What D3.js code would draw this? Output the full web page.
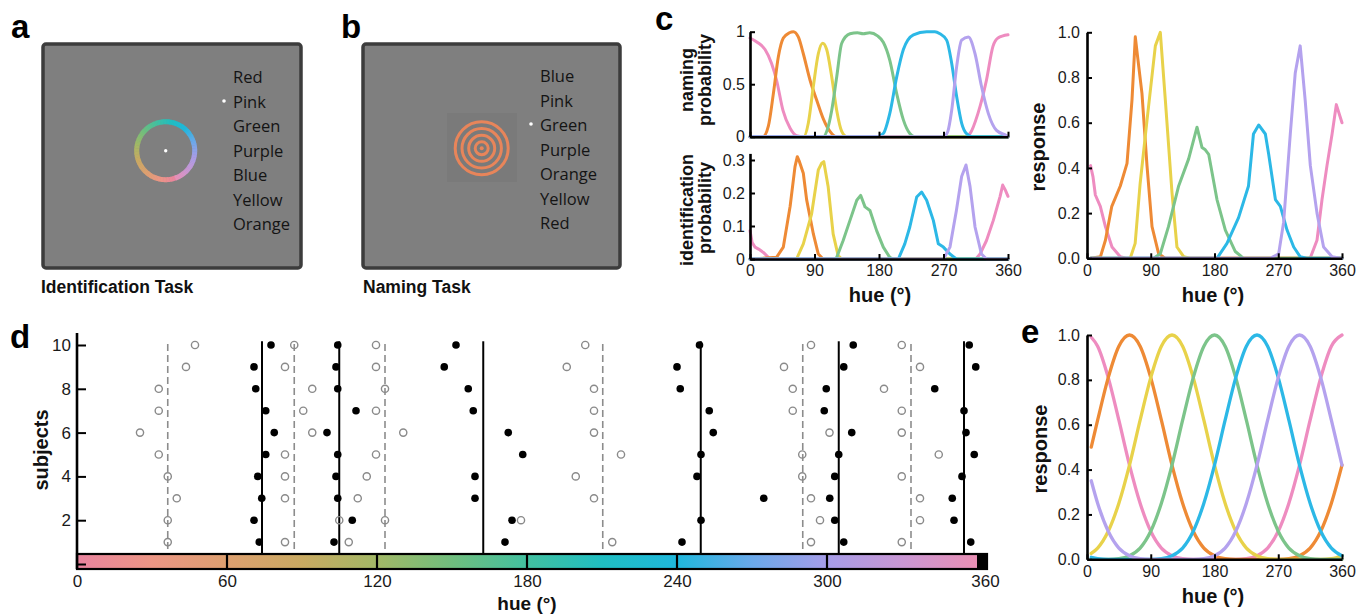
<!DOCTYPE html>
<html><head><meta charset="utf-8">
<script src="https://cdn.jsdelivr.net/npm/d3@7"></script>
<style>html,body{margin:0;padding:0;background:#fff}svg{display:block}</style>
</head><body>
<svg id="fig" width="1370" height="614"></svg>
<script>
// ---------------- DATA ----------------
const identWords = ["Red","Pink","Green","Purple","Blue","Yellow","Orange"];
const namingWords = ["Blue","Pink","Green","Purple","Orange","Yellow","Red"];
const hueTicksC = [0,90,180,270,360];
const hueTicksD = [0,60,120,180,240,300,360];
const subjectTicks = [0,2,4,6,8,10];
const seriesNames = ["pink","orange","yellow","green","blue","purple"];
const seriesColors = ["#ee8cc0","#ee8a35","#e8d24a","#7cc48a","#2cb8e6","#b4a2ee"];

// colour bar (hue -> colour)
const barHues = [0,30,60,90,120,150,180,210,240,270,300,330,360];
const barColors = ["#e9849f","#ec9685","#dda070","#c9aa62","#a2b866","#70be7e","#42c0a0","#20bec2","#1fb7dc","#6aa9ea","#a69de8","#c997d4","#e98fb4"];

// c (top): naming probability, [hue, p]
const namingPink   = [[0,0.94],[10,0.9],[21,0.83],[30,0.7],[37,0.54],[46,0.25],[56,0.08],[65,0.01],[75,0],[300,0],[307,0.03],[318,0.22],[330,0.54],[339,0.86],[346,0.94],[360,0.97]];
const namingOrange = [[0,0],[18,0],[25.6,0.1],[32.6,0.41],[39.5,0.76],[46.5,0.94],[55,0.99],[60.5,1.0],[67.4,0.95],[74.4,0.79],[83.7,0.54],[93,0.35],[102.3,0.17],[111.6,0.05],[120,0],[360,0]];
const namingYellow = [[0,0],[75,0],[81.4,0.13],[88.4,0.48],[95.3,0.79],[101.4,0.89],[107,0.83],[114,0.57],[121,0.25],[128,0.05],[135,0],[360,0]];
const namingGreen  = [[0,0],[102,0],[108,0.07],[114,0.25],[121,0.57],[128,0.89],[139.5,0.98],[150,0.99],[158,0.98],[167,0.99],[178,0.96],[186,0.9],[195,0.73],[204.7,0.41],[214,0.16],[223,0.03],[230,0],[360,0]];
const namingBlue   = [[0,0],[177,0],[186,0.03],[195,0.22],[204.7,0.57],[214,0.83],[228,0.97],[246.5,1.0],[258,1.0],[265,0.98],[274.4,0.92],[281.4,0.7],[288.4,0.38],[295.3,0.13],[302,0.03],[310,0],[360,0]];
const namingPurple = [[0,0],[270,0],[276,0.05],[281.4,0.25],[288.4,0.67],[295.3,0.92],[304.7,0.95],[314,0.79],[323,0.48],[332.6,0.22],[344,0.06],[358,0.01],[360,0]];

// c (bottom): identification probability
const identPink   = [[0,0.086],[3,0.05],[7,0.036],[12,0.03],[18.6,0.02],[28,0],[315,0],[321,0.015],[330,0.056],[339.5,0.117],[349,0.19],[352.6,0.224],[356,0.21],[360,0.19]];
const identOrange = [[0,0],[37,0.005],[46.5,0.036],[56,0.16],[62.8,0.28],[66,0.31],[69,0.295],[74.4,0.26],[79,0.18],[88.4,0.076],[95.3,0.015],[102,0],[360,0]];
const identYellow = [[0,0],[65,0],[74.4,0.046],[86,0.137],[95.3,0.27],[100,0.29],[103,0.295],[109,0.22],[116,0.076],[123,0.01],[128,0],[360,0]];
const identGreen  = [[0,0],[118,0],[121,0.005],[130,0.056],[139.5,0.117],[149,0.178],[154.4,0.193],[160.5,0.158],[167.4,0.147],[176.7,0.086],[186,0.036],[195,0.005],[200,0],[360,0]];
const identBlue   = [[0,0],[207,0],[216,0.046],[223,0.097],[232.6,0.188],[239.5,0.203],[246.5,0.178],[255.8,0.117],[262.8,0.046],[269.8,0.036],[279,0.015],[288,0],[360,0]];
const identPurple = [[0,0],[270,0],[279,0.036],[288,0.147],[295.3,0.25],[301.4,0.285],[307,0.22],[314,0.097],[323,0.015],[330,0],[360,0]];

// c (right): response
const respPink   = [[5,0.41],[8.5,0.36],[11.8,0.28],[18.8,0.23],[26,0.14],[35.3,0.05],[47,0.007],[55,0],[315,0],[324.7,0.08],[331.8,0.26],[338.8,0.41],[346,0.55],[352,0.68],[360,0.6]];
const respOrange = [[5,0],[19,0.007],[26,0.08],[35,0.23],[47,0.32],[56.5,0.42],[63.5,0.7],[68.2,0.98],[71.5,0.89],[77.6,0.73],[84.7,0.41],[91.8,0.14],[101,0.022],[110,0],[360,0]];
const respYellow = [[5,0],[61,0],[68,0.066],[75,0.33],[84.7,0.61],[96.5,0.94],[103.5,1.0],[110.6,0.7],[120,0.29],[127,0.05],[136.5,0.007],[145,0],[360,0]];
const respGreen  = [[5,0],[94,0],[103.5,0.02],[115,0.14],[129.4,0.32],[143.5,0.44],[155.3,0.58],[162.4,0.49],[167,0.48],[171.8,0.46],[183.5,0.26],[195.3,0.125],[209.4,0.03],[221,0],[360,0]];
const respBlue   = [[5,0],[183.5,0],[197.6,0.066],[214,0.18],[228,0.32],[235,0.55],[242.4,0.59],[251.8,0.55],[256.5,0.46],[266,0.26],[273,0.23],[282.4,0.125],[291.8,0.05],[301,0.007],[310,0],[360,0]];
const respPurple = [[5,0],[258.8,0],[270.6,0.02],[277.6,0.16],[287,0.55],[294,0.82],[301,0.94],[308,0.7],[315.3,0.41],[324.7,0.2],[334,0.05],[346,0.007],[357.6,0],[360,0]];

// e: tuning curves on a hue grid
const hueE = [6,15,30,45,60,75,90,105,120,135,150,165,180,195,210,225,240,255,270,285,300,315,330,345,360];
const tunePink   = [0.99,0.95,0.81,0.62,0.42,0.25,0.125,0.05,0.016,0.003,0,0,0,0,0,0.003,0.016,0.05,0.125,0.25,0.42,0.62,0.81,0.95,1.0];
const tuneOrange = [0.50,0.62,0.81,0.95,1.0,0.95,0.81,0.62,0.42,0.25,0.125,0.05,0.016,0.003,0,0,0,0,0,0.003,0.016,0.05,0.125,0.25,0.42];
const tuneYellow = [0.026,0.05,0.125,0.25,0.42,0.62,0.81,0.95,1.0,0.95,0.81,0.62,0.42,0.25,0.125,0.05,0.016,0.003,0,0,0,0,0,0.003,0.016];
const tuneGreen  = [0,0,0,0.003,0.016,0.05,0.125,0.25,0.42,0.62,0.81,0.95,1.0,0.95,0.81,0.62,0.42,0.25,0.125,0.05,0.016,0.003,0,0,0];
const tuneBlue   = [0.009,0.003,0,0,0,0,0,0.003,0.016,0.05,0.125,0.25,0.42,0.62,0.81,0.95,1.0,0.95,0.81,0.62,0.42,0.25,0.125,0.05,0.016];
const tunePurple = [0.35,0.25,0.125,0.05,0.016,0.003,0,0,0,0,0,0.003,0.016,0.05,0.125,0.25,0.42,0.62,0.81,0.95,1.0,0.95,0.81,0.62,0.42];

// d: focal hues per subject (rows 10..1), 6 colour categories
const subjects = [10,9,8,7,6,5,4,3,2,1];
const namingHues = [
 [77.6,104.3,151.6,249.0,310.5,356.9],
 [70.8,103.6,146.9,240.0,306.7,359.5],
 [71.5,104.3,156.5,241.3,299.7,343.1],
 [75.5,111.6,158.5,252.9,298.9,354.8],
 [78.9,100.0,172.5,254.5,309.9,355.6],
 [75.5,104.3,178.3,249.6,304.7,358.9],
 [72.3,103.6,159.2,248.0,303.1,354.0],
 [73.9,104.3,159.2,274.7,301.1,350.1],
 [70.8,110.1,174.0,249.6,303.1,350.8],
 [72.9,102.8,171.2,242.0,306.7,357.5]];
const identHues = [
 [47.2,86.9,119.6,203.3,293.6,329.9],
 [43.6,83.2,119.6,195.9,282.8,337.2],
 [32.7,94.1,123.2,206.8,286.3,322.8],
 [32.7,90.5,119.6,206.8,286.3,329.9],
 [25.2,94.1,130.5,206.8,301.0,329.9],
 [32.7,83.2,119.6,217.6,290.1,344.7],
 [36.3,83.2,115.9,199.5,290.1,329.9],
 [39.9,83.2,112.3,206.8,293.6,337.2],
 [36.3,104.9,123.2,177.6,297.2,337.2],
 [36.3,83.2,108.7,214.1,293.6,329.9]];
const namingMeans = [74.0,104.9,162.5,249.5,304.7,354.8];
const identMeans  = [36.3,86.9,123.2,210.3,290.3,333.6];

// ---------------- DRAWING ----------------
const svg = d3.select("#fig");
const SANS = "'Liberation Sans', Arial, Helvetica, sans-serif";
const CAL = "'Open Sans', 'Noto Sans', sans-serif";
const hueColor = d3.scaleLinear().domain(barHues).range(barColors);

function panelLabel(t, x, y) {
  svg.append("text").attr("x", x).attr("y", y).text(t)
    .attr("font-family", SANS).attr("font-weight", "bold").attr("font-size", 33).attr("fill", "#000");
}
function styleAxis(g, fs) {
  g.attr("font-family", SANS).attr("font-size", fs);
  g.select(".domain").attr("stroke", "#000").attr("stroke-width", 2.6);
  g.selectAll(".tick line").attr("stroke", "#000").attr("stroke-width", 2);
  g.selectAll(".tick text").attr("fill", "#1a1a1a");
}
function title(t, x, y, fs, rot) {
  const el = svg.append("text").text(t).attr("font-family", SANS).attr("font-weight", "bold")
    .attr("font-size", fs).attr("fill", "#111").attr("text-anchor", "middle");
  if (rot) el.attr("transform", `translate(${x},${y}) rotate(-90)`).attr("dominant-baseline", "central");
  else el.attr("x", x).attr("y", y);
  return el;
}

// ---- panel a ----
panelLabel("a", 11, 38);
svg.append("rect").attr("x", 43).attr("y", 44).attr("width", 258).attr("height", 224).attr("rx", 3)
  .attr("fill", "#7f7f7f").attr("stroke", "#3c3c3c").attr("stroke-width", 3.5);
const ringG = svg.append("g").attr("transform", "translate(165.7,150.7)");
const arc = d3.arc().innerRadius(26.5).outerRadius(31.5);
const ringHues = d3.range(0, 360, 3);
ringG.selectAll("path").data(ringHues).join("path")
  .attr("d", h => arc({startAngle: (h + 160) * Math.PI / 180, endAngle: (h + 164) * Math.PI / 180}))
  .attr("fill", h => hueColor(h));
ringG.append("circle").attr("r", 1.7).attr("fill", "#fff");
svg.append("g").selectAll("text").data(identWords).join("text")
  .attr("x", 233).attr("y", (d, i) => 83 + i * 24.5).text(d => d)
  .attr("font-family", CAL).attr("font-size", 16.5).attr("fill", "#141414");
svg.append("circle").attr("cx", 224).attr("cy", 101).attr("r", 1.8).attr("fill", "#fff");
svg.append("text").attr("x", 41).attr("y", 293).text("Identification Task")
  .attr("font-family", SANS).attr("font-weight", "bold").attr("font-size", 17.5).attr("fill", "#111");

// ---- panel b ----
panelLabel("b", 341, 38);
svg.append("rect").attr("x", 363).attr("y", 44).attr("width", 257).attr("height", 224).attr("rx", 3)
  .attr("fill", "#7f7f7f").attr("stroke", "#3c3c3c").attr("stroke-width", 3.5);
svg.append("rect").attr("x", 447).attr("y", 113).attr("width", 70).attr("height", 69).attr("fill", "#7a7a7a");
const ringB = svg.append("g").attr("transform", "translate(481.7,148.3)");
ringB.selectAll("circle").data([26.5, 19.7, 13, 6.5]).join("circle")
  .attr("r", d => d).attr("fill", "none").attr("stroke", "#e8855a").attr("stroke-width", 3);
ringB.append("circle").attr("r", 2).attr("fill", "#e8855a");
svg.append("g").selectAll("text").data(namingWords).join("text")
  .attr("x", 540).attr("y", (d, i) => 82 + i * 24.5).text(d => d)
  .attr("font-family", CAL).attr("font-size", 16.5).attr("fill", "#141414");
svg.append("circle").attr("cx", 531).attr("cy", 124).attr("r", 1.8).attr("fill", "#fff");
svg.append("text").attr("x", 363).attr("y", 293).text("Naming Task")
  .attr("font-family", SANS).attr("font-weight", "bold").attr("font-size", 17.5).attr("fill", "#111");

// ---- panel c ----
panelLabel("c", 655, 30);
const lineStyle = (sel, color) => sel.attr("fill", "none").attr("stroke", color).attr("stroke-width", 3)
  .attr("stroke-linejoin", "round").attr("stroke-linecap", "round");

const xC = d3.scaleLinear().domain([0, 360]).range([750, 1008]);
const yCT = d3.scaleLinear().domain([0, 1]).range([136.7, 31.7]);
const yCB = d3.scaleLinear().domain([0, 0.32]).range([259, 153.4]);

const namingSeries = [namingPink, namingOrange, namingYellow, namingGreen, namingBlue, namingPurple];
const identSeries = [identPink, identOrange, identYellow, identGreen, identBlue, identPurple];
const respSeries = [respPink, respOrange, respYellow, respGreen, respBlue, respPurple];
const tuneSeries = [tunePink, tuneOrange, tuneYellow, tuneGreen, tuneBlue, tunePurple];

const lnCT = d3.line().x(d => xC(d[0])).y(d => yCT(d[1])).curve(d3.curveMonotoneX);
namingSeries.forEach((s, i) => lineStyle(svg.append("path").attr("d", lnCT(s)), seriesColors[i]));
const lnCB = d3.line().x(d => xC(d[0])).y(d => yCB(d[1]));
identSeries.forEach((s, i) => lineStyle(svg.append("path").attr("d", lnCB(s)), seriesColors[i]));

let g;
g = svg.append("g").attr("transform", `translate(0,${yCT(0)})`)
  .call(d3.axisBottom(xC).tickValues(hueTicksC).tickSize(-5).tickSizeOuter(0).tickFormat(""));
styleAxis(g, 16);
g = svg.append("g").attr("transform", `translate(${xC(0)},0)`)
  .call(d3.axisLeft(yCT).tickValues([0, 0.5, 1]).tickSize(-5).tickSizeOuter(0).tickPadding(5).tickFormat(d3.format("")));
styleAxis(g, 16);
g = svg.append("g").attr("transform", `translate(0,${yCB(0)})`)
  .call(d3.axisBottom(xC).tickValues(hueTicksC).tickSize(-5).tickSizeOuter(0).tickPadding(6));
styleAxis(g, 16);
g = svg.append("g").attr("transform", `translate(${xC(0)},0)`)
  .call(d3.axisLeft(yCB).tickValues([0, 0.1, 0.2, 0.3]).tickSize(-5).tickSizeOuter(0).tickPadding(5).tickFormat(d3.format("")));
styleAxis(g, 16);
title("naming", 687, 80, 18, true);
title("probability", 705, 80, 18, true);
title("identification", 687, 210, 18, true);
title("probability", 705, 208, 18, true);
title("hue (°)", 880, 302, 20, false);

// c right
const xCR = d3.scaleLinear().domain([0, 360]).range([1087, 1342]);
const yCR = d3.scaleLinear().domain([0, 1]).range([258.3, 32.3]);
const lnCR = d3.line().x(d => xCR(d[0])).y(d => yCR(d[1]));
respSeries.forEach((s, i) => lineStyle(svg.append("path").attr("d", lnCR(s)), seriesColors[i]));
g = svg.append("g").attr("transform", `translate(0,${yCR(0)})`)
  .call(d3.axisBottom(xCR).tickValues(hueTicksC).tickSize(-5).tickSizeOuter(0).tickPadding(6));
styleAxis(g, 16);
g = svg.append("g").attr("transform", `translate(${xCR(0)},0)`)
  .call(d3.axisLeft(yCR).tickValues([0, 0.2, 0.4, 0.6, 0.8, 1]).tickSize(-5).tickSizeOuter(0).tickPadding(7).tickFormat(d3.format(".1f")));
styleAxis(g, 16);
title("response", 1038, 147, 20, true);
title("hue (°)", 1213, 302, 20, false);

// ---- panel d ----
panelLabel("d", 10, 348);
const xD = d3.scaleLinear().domain([0, 360]).range([77, 977]);
const yD = d3.scaleLinear().domain([0, 10]).range([564, 345]);

// colour bar
const defs = svg.append("defs");
const grad = defs.append("linearGradient").attr("id", "hueGrad").attr("gradientUnits", "userSpaceOnUse")
  .attr("x1", xD(0)).attr("x2", xD(360)).attr("y1", 0).attr("y2", 0);
grad.selectAll("stop").data(barHues).join("stop")
  .attr("offset", h => h / 360).attr("stop-color", (h, i) => barColors[i]);
svg.append("rect").attr("x", xD(0)).attr("y", 554).attr("width", xD(360) - xD(0)).attr("height", 15).attr("fill", "url(#hueGrad)");
svg.append("rect").attr("x", xD(360)).attr("y", 554).attr("width", 10).attr("height", 15).attr("fill", "#000");
svg.append("rect").attr("x", xD(0)).attr("y", 554).attr("width", xD(360) + 10 - xD(0)).attr("height", 15)
  .attr("fill", "none").attr("stroke", "#000").attr("stroke-width", 2.2);
svg.append("g").selectAll("line").data(hueTicksD.slice(1, -1)).join("line")
  .attr("x1", d => xD(d)).attr("x2", d => xD(d)).attr("y1", 554).attr("y2", 569)
  .attr("stroke", "#000").attr("stroke-width", 2.2);

// mean lines
svg.append("g").selectAll("line").data(identMeans).join("line")
  .attr("x1", d => xD(d)).attr("x2", d => xD(d)).attr("y1", yD(10.05)).attr("y2", yD(0.6))
  .attr("stroke", "#8c8c8c").attr("stroke-width", 1.6).attr("stroke-dasharray", "7,4");
svg.append("g").selectAll("line").data(namingMeans).join("line")
  .attr("x1", d => xD(d)).attr("x2", d => xD(d)).attr("y1", yD(10.17)).attr("y2", 554)
  .attr("stroke", "#000").attr("stroke-width", 2);

// points
const openPts = [], filledPts = [];
subjects.forEach((s, r) => {
  identHues[r].forEach(h => openPts.push([h, s]));
  namingHues[r].forEach(h => filledPts.push([h, s]));
});
svg.append("g").selectAll("circle").data(openPts).join("circle")
  .attr("cx", d => xD(d[0])).attr("cy", d => yD(d[1])).attr("r", 3.6)
  .attr("fill", "none").attr("stroke", "#8a8a8a").attr("stroke-width", 1.4);
svg.append("g").selectAll("circle").data(filledPts).join("circle")
  .attr("cx", d => xD(d[0])).attr("cy", d => yD(d[1])).attr("r", 3.8).attr("fill", "#000");

// axes d
g = svg.append("g").attr("transform", `translate(${xD(0)},0)`)
  .call(d3.axisLeft(yD).tickValues(subjectTicks).tickSize(-9).tickSizeOuter(0).tickPadding(6)
    .tickFormat(d => d === 0 ? "" : d));
styleAxis(g, 17);
g.select(".domain").attr("d", `M0,333V569`);
g = svg.append("g").attr("transform", `translate(0,569)`)
  .call(d3.axisBottom(xD).tickValues(hueTicksD).tickSize(0).tickPadding(6));
styleAxis(g, 17);
g.select(".domain").remove();
g.selectAll(".tick text").filter(d => d === 360).attr("dx", 8);
title("subjects", 41, 450, 20, true);
title("hue (°)", 527, 610, 19, false);

// ---- panel e ----
panelLabel("e", 1021, 343);
const xE = d3.scaleLinear().domain([0, 360]).range([1087, 1342]);
const yE = d3.scaleLinear().domain([0, 1]).range([559.3, 335]);
const lnE = d3.line().x((d, i) => xE(hueE[i])).y(d => yE(d)).curve(d3.curveMonotoneX);
tuneSeries.forEach((s, i) => svg.append("path").attr("d", lnE(s)).attr("fill", "none")
  .attr("stroke", seriesColors[i]).attr("stroke-width", 3.3).attr("stroke-linecap", "round"));
g = svg.append("g").attr("transform", `translate(0,${yE(0)})`)
  .call(d3.axisBottom(xE).tickValues(hueTicksC).tickSize(-5).tickSizeOuter(0).tickPadding(6));
styleAxis(g, 16);
g = svg.append("g").attr("transform", `translate(${xE(0)},0)`)
  .call(d3.axisLeft(yE).tickValues([0, 0.2, 0.4, 0.6, 0.8, 1]).tickSize(-5).tickSizeOuter(0).tickPadding(7).tickFormat(d3.format(".1f")));
styleAxis(g, 16);
title("response", 1040, 449, 20, true);
title("hue (°)", 1213, 603, 20, false);
</script>
</body></html>
